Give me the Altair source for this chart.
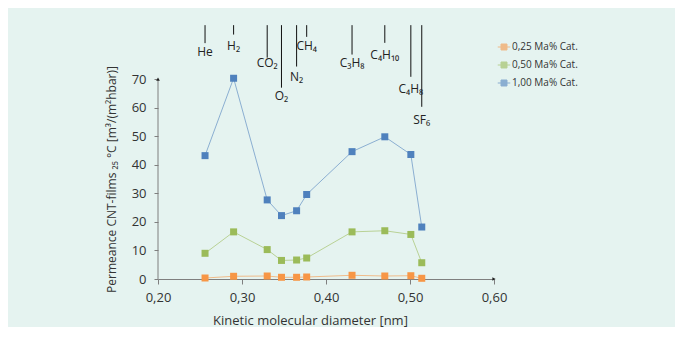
import altair as alt
import pandas as pd

gases = ["He", "H₂", "CO₂", "O₂", "N₂", "CH₄", "C₃H₈", "C₄H₁₀", "C₄H₈", "SF₆"]
diameter = [0.256, 0.290, 0.330, 0.347, 0.365, 0.377, 0.431, 0.470, 0.501, 0.514]
perm_025 = [0.35, 0.95, 1.05, 0.6, 0.6, 0.7, 1.3, 1.05, 1.15, 0.25]
perm_050 = [9.0, 16.5, 10.3, 6.5, 6.65, 7.35, 16.5, 16.9, 15.6, 5.7]
perm_100 = [43.2, 70.3, 27.7, 22.2, 23.9, 29.6, 44.6, 49.8, 43.6, 18.2]
series = ["0,25 Ma% Cat.", "0,50 Ma% Cat.", "1,00 Ma% Cat."]
series_colors = ["#F79646", "#9BBB59", "#4F81BD"]

# annotation levels (data units on the permeance axis)
label_top = 88.9
label_line_end = [82.6, 85.6, 77.5, 67.0, 74.4, 84.8, 78.6, 82.7, 70.8, 60.3]
label_level = [79.6, 81.7, 75.5, 64.2, 70.8, 81.6, 75.5, 78.6, 66.7, 55.7]

x_ticks = [0.2, 0.3, 0.4, 0.5, 0.6]
y_ticks = [0, 10, 20, 30, 40, 50, 60, 70]

rows = []
for s, vals in zip(series, [perm_025, perm_050, perm_100]):
    for g, d, v in zip(gases, diameter, vals):
        rows.append({"gas": g, "d": d, "p": v, "series": s})
df = pd.DataFrame(rows)

ann = pd.DataFrame({
    "gas": gases, "d": diameter,
    "p": [label_top] * len(gases),
    "p2": label_line_end, "lvl": label_level,
})

FONT = "Open Sans"

xs = alt.Scale(domain=[0.2, 0.6], nice=False, zero=False)
ys = alt.Scale(domain=[0, 90], nice=False, zero=False)

color_scale = alt.Scale(domain=series, range=series_colors)
color = alt.Color(
    "series:N",
    scale=color_scale,
    legend=alt.Legend(
        title=None, orient="none", legendX=339, legendY=18,
        symbolType="M-1,0H1M-0.48,-0.48H0.48V0.48H-0.48Z",
        symbolSize=156, symbolStrokeWidth=1,
        labelFontSize=10, labelFont=FONT, labelColor="#333333",
        rowPadding=6, labelOffset=1,
    ),
)

x_axis = alt.Axis(
    values=x_ticks, labelExpr="replace(format(datum.value, '.2f'), '.', ',')",
    title="Kinetic molecular diameter [nm]", titleX=152, titlePadding=10,
    grid=False, domainColor="#7f7f7f", tickColor="#7f7f7f", tickSize=5,
    labelFontSize=13, titleFontSize=13, labelFont=FONT, titleFont=FONT,
    labelColor="#333333", titleColor="#333333", titleFontWeight="normal",
    labelPadding=7, labelFlush=False,
)
y_axis = alt.Axis(
    values=y_ticks, domain=False,
    title="Permeance CNT-films ₂₅ °C [m³/(m²hbar)]", titleY=157, titlePadding=13,
    grid=False, tickColor="#7f7f7f", tickSize=4,
    labelFontSize=13, titleFontSize=12, labelFont=FONT, titleFont=FONT,
    labelColor="#333333", titleColor="#333333", titleFontWeight="normal",
    labelPadding=8,
)

X = alt.X("d:Q", scale=xs, axis=x_axis)
Y = alt.Y("p:Q", scale=ys, axis=y_axis)

base = alt.Chart(df)
lines = base.mark_line(strokeWidth=1, opacity=0.6).encode(
    x=X, y=Y, color=color, detail="series:N"
)
points = base.mark_point(shape="square", filled=True, size=49, opacity=1).encode(
    x=X, y=Y, color=alt.Color("series:N", scale=color_scale, legend=None)
)

yaxis_line = alt.Chart(pd.DataFrame({"d": [0.2], "p": [0], "p2": [70]})).mark_rule(
    color="#7f7f7f", strokeWidth=1
).encode(x=X, y=Y, y2="p2:Q")

arrows = alt.Chart(pd.DataFrame({"d": [0.2, 0.6], "p": [70, 0], "shape": ["triangle-up", "triangle-right"]})).mark_point(
    filled=True, size=14, color="#222222", opacity=1
).encode(x=X, y=Y, shape=alt.Shape("shape:N", scale=None))

ann_rules = alt.Chart(ann).mark_rule(color="#111111", strokeWidth=1).encode(
    x=X, y=Y, y2="p2:Q"
)
ann_text = alt.Chart(ann).mark_text(
    font=FONT, fontSize=12, color="#222222", baseline="middle", align="center"
).encode(x=X, y=alt.Y("lvl:Q", scale=ys, axis=y_axis), text="gas:N")

chart = alt.layer(lines, points, yaxis_line, arrows, ann_rules, ann_text).properties(
    width=336, height=257,
    autosize=alt.AutoSizeParams(type="none"),
    padding={"left": 150, "top": 14, "right": 181, "bottom": 48},
).configure(background="#e5f3f0").configure_view(stroke=None)

chart.save("out.html", embed_options={"renderer": "svg", "actions": False})
